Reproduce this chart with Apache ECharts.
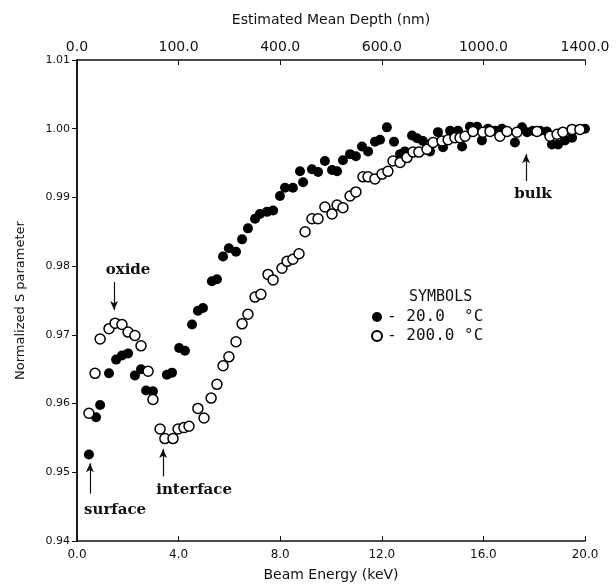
<!DOCTYPE html>
<html>
<head>
<meta charset="utf-8">
<script src="https://cdn.jsdelivr.net/npm/echarts@6/dist/echarts.min.js"></script>
<style>
  html, body { margin: 0; padding: 0; background: #fff; }
  #chart { width: 616px; height: 587px; }
</style>
</head>
<body>
<div id="chart"></div>
<script>
// 20.0 C (filled circles)
var energy20 = [0.47, 0.75, 0.91, 1.26, 1.54, 1.77, 2.01, 2.28, 2.52, 2.72, 2.99, 3.54, 3.74, 4.02, 4.25,
  4.53, 4.76, 4.96, 5.31, 5.51, 5.75, 5.98, 6.26, 6.50, 6.73, 7.01, 7.20, 7.48, 7.72, 7.99, 8.19, 8.50,
  8.78, 8.90, 9.25, 9.49, 9.76, 10.04, 10.24, 10.47, 10.75, 10.98, 11.22, 11.46, 11.73, 11.93, 12.20,
  12.48, 12.72, 12.91, 13.19, 13.39, 13.62, 13.90, 14.21, 14.41, 14.69, 15.00, 15.16, 15.47, 15.75,
  15.94, 16.18, 16.46, 16.73, 17.24, 17.52, 17.72, 17.95, 18.23, 18.50, 18.70, 18.94, 19.21, 19.49, 20.0];
var sParam20 = [0.9526, 0.9580, 0.9598, 0.9644, 0.9664, 0.9670, 0.9673, 0.9641, 0.9650, 0.9619, 0.9618,
  0.9642, 0.9645, 0.9681, 0.9677, 0.9715, 0.9735, 0.9739, 0.9778, 0.9781, 0.9814, 0.9826, 0.9821, 0.9839,
  0.9855, 0.9869, 0.9876, 0.9879, 0.9881, 0.9902, 0.9914, 0.9914, 0.9938, 0.9922, 0.9941, 0.9937, 0.9953,
  0.9940, 0.9938, 0.9954, 0.9963, 0.9960, 0.9974, 0.9967, 0.9981, 0.9984, 1.0002, 0.9981, 0.9963, 0.9967,
  0.9990, 0.9986, 0.9982, 0.9967, 0.9995, 0.9973, 0.9997, 0.9997, 0.9974, 1.0003, 1.0003, 0.9983, 1.0000,
  0.9997, 1.0000, 0.9980, 1.0002, 0.9995, 0.9997, 0.9997, 0.9996, 0.9977, 0.9977, 0.9983, 0.9987, 1.0000];

// 200.0 C (open circles)
var energy200 = [0.47, 0.71, 0.91, 1.26, 1.50, 1.77, 2.01, 2.28, 2.52, 2.80, 2.99, 3.27, 3.46, 3.78, 3.98,
  4.21, 4.41, 4.76, 5.00, 5.28, 5.51, 5.75, 5.98, 6.26, 6.50, 6.73, 7.01, 7.24, 7.52, 7.72, 8.07, 8.27,
  8.50, 8.74, 8.98, 9.25, 9.49, 9.76, 10.04, 10.24, 10.47, 10.75, 10.98, 11.26, 11.46, 11.73, 12.01,
  12.24, 12.44, 12.72, 12.99, 13.23, 13.46, 13.78, 14.02, 14.37, 14.61, 14.88, 15.08, 15.28, 15.59,
  15.98, 16.26, 16.65, 16.93, 17.32, 18.11, 18.62, 18.90, 19.13, 19.49, 19.80];
var sParam200 = [0.9586, 0.9644, 0.9694, 0.9709, 0.9717, 0.9715, 0.9704, 0.9699, 0.9684, 0.9647, 0.9606,
  0.9563, 0.9549, 0.9549, 0.9563, 0.9565, 0.9567, 0.9593, 0.9579, 0.9608, 0.9628, 0.9655, 0.9668, 0.9690,
  0.9716, 0.9730, 0.9755, 0.9759, 0.9788, 0.9780, 0.9797, 0.9807, 0.9810, 0.9818, 0.9850, 0.9869, 0.9869,
  0.9886, 0.9876, 0.9889, 0.9885, 0.9902, 0.9908, 0.9930, 0.9930, 0.9927, 0.9934, 0.9938, 0.9953, 0.9951,
  0.9958, 0.9966, 0.9966, 0.9970, 0.9980, 0.9982, 0.9984, 0.9987, 0.9987, 0.9989, 0.9996, 0.9995, 0.9996,
  0.9989, 0.9996, 0.9995, 0.9996, 0.9989, 0.9992, 0.9995, 0.9999, 0.9999];

// top axis: depth labels at the bottom axis ticks (0, 4, 8 ... 20 keV)
var energyTicks = [0, 4, 8, 12, 16, 20];
var depthLabels = ['0.0', '100.0', '400.0', '600.0', '1000.0', '1400.0'];

// annotations: text position and arrow [from, to] in data units
var notes = [
  { text: 'oxide', at: [2.01, 0.9794], arrow: [[1.46, 0.9777], [1.46, 0.9736]] },
  { text: 'interface', at: [4.61, 0.9474], arrow: [[3.39, 0.9494], [3.39, 0.9534]] },
  { text: 'surface', at: [1.50, 0.9445], arrow: [[0.51, 0.9469], [0.51, 0.9513]] },
  { text: 'bulk', at: [17.95, 0.9905], arrow: [[17.68, 0.9924], [17.68, 0.9963]] }
];

function pairs(xs, ys) {
  return xs.map(function (x, i) { return [x, ys[i]]; });
}

var tickFont = 'DejaVu Sans';
var myChart = echarts.init(document.getElementById('chart'));

myChart.setOption({
  animation: false,
  backgroundColor: '#fff',
  title: {
    text: 'SYMBOLS',
    left: 404, top: 285,
    textStyle: { fontFamily: 'DejaVu Sans Mono', fontSize: 15, fontWeight: 'normal', color: '#111' }
  },
  legend: {
    orient: 'vertical',
    left: 366, top: 304,
    itemWidth: 10, itemHeight: 10, itemGap: 3,
    formatter: function (name) { return '- ' + name; },
    textStyle: { fontFamily: 'DejaVu Sans Mono', fontSize: 16, color: '#111' },
    data: ['20.0  °C', '200.0 °C']
  },
  grid: { left: 77, right: 31, top: 60, bottom: 42 },
  xAxis: [{
    type: 'value', position: 'bottom',
    min: 0, max: 20, interval: 4,
    name: 'Beam Energy (keV)', nameLocation: 'middle', nameGap: 27,
    nameTextStyle: { fontFamily: tickFont, fontSize: 14, color: '#111' },
    axisLine: { lineStyle: { color: '#111', width: 1.5 } },
    axisTick: { inside: true, length: 5, lineStyle: { color: '#111' } },
    axisLabel: { fontFamily: tickFont, fontSize: 12, color: '#111', margin: 8,
      formatter: function (v) { return v.toFixed(1); } },
    splitLine: { show: false }
  }, {
    type: 'value', position: 'top',
    min: 0, max: 20, interval: 4,
    name: 'Estimated Mean Depth (nm)', nameLocation: 'middle', nameGap: 33,
    nameTextStyle: { fontFamily: tickFont, fontSize: 14, color: '#111' },
    axisLine: { lineStyle: { color: '#111', width: 1.5 } },
    axisTick: { inside: true, length: 5, lineStyle: { color: '#111' } },
    axisLabel: { fontFamily: tickFont, fontSize: 14, color: '#111', margin: 6,
      formatter: function (v) { return depthLabels[energyTicks.indexOf(Math.round(v))]; } },
    splitLine: { show: false }
  }],
  yAxis: [{
    type: 'value', position: 'left',
    min: 0.94, max: 1.01, interval: 0.01,
    name: 'Normalized S parameter', nameLocation: 'middle', nameGap: 50,
    nameTextStyle: { fontFamily: tickFont, fontSize: 13, color: '#111' },
    axisLine: { show: true, lineStyle: { color: '#111', width: 1.5 } },
    axisTick: { show: true, length: 5, lineStyle: { color: '#111' } },
    axisLabel: { fontFamily: tickFont, fontSize: 11, color: '#111', margin: 7,
      formatter: function (v) { return v.toFixed(2); } },
    splitLine: { show: false }
  }, {
    type: 'value', position: 'right',
    min: 0.94, max: 1.01, interval: 0.01,
    axisLine: { show: true, lineStyle: { color: '#111', width: 1.5 } },
    axisTick: { show: false }, axisLabel: { show: false }, splitLine: { show: false }
  }],
  series: [{
    name: '20.0  °C', type: 'scatter',
    symbol: 'circle', symbolSize: 10,
    itemStyle: { color: '#000', opacity: 1 },
    data: pairs(energy20, sParam20),
    markLine: {
      silent: true, animation: false,
      symbol: ['none', 'arrow'], symbolSize: [6, 9],
      label: { show: false },
      lineStyle: { color: '#111', width: 1.2, type: 'solid' },
      data: notes.map(function (n) {
        return [{ coord: n.arrow[0] }, { coord: n.arrow[1] }];
      })
    },
    markPoint: {
      silent: true, symbol: 'circle', symbolSize: 0,
      label: { show: true, position: 'inside', fontFamily: 'DejaVu Serif', fontSize: 15,
        fontWeight: 'bold', color: '#111', formatter: function (p) { return p.name; } },
      data: notes.map(function (n) { return { name: n.text, coord: n.at }; })
    }
  }, {
    name: '200.0 °C', type: 'scatter',
    symbol: 'circle', symbolSize: 10,
    itemStyle: { color: '#fff', borderColor: '#000', borderWidth: 1.5, opacity: 1 },
    data: pairs(energy200, sParam200)
  }]
});
</script>
</body>
</html>
